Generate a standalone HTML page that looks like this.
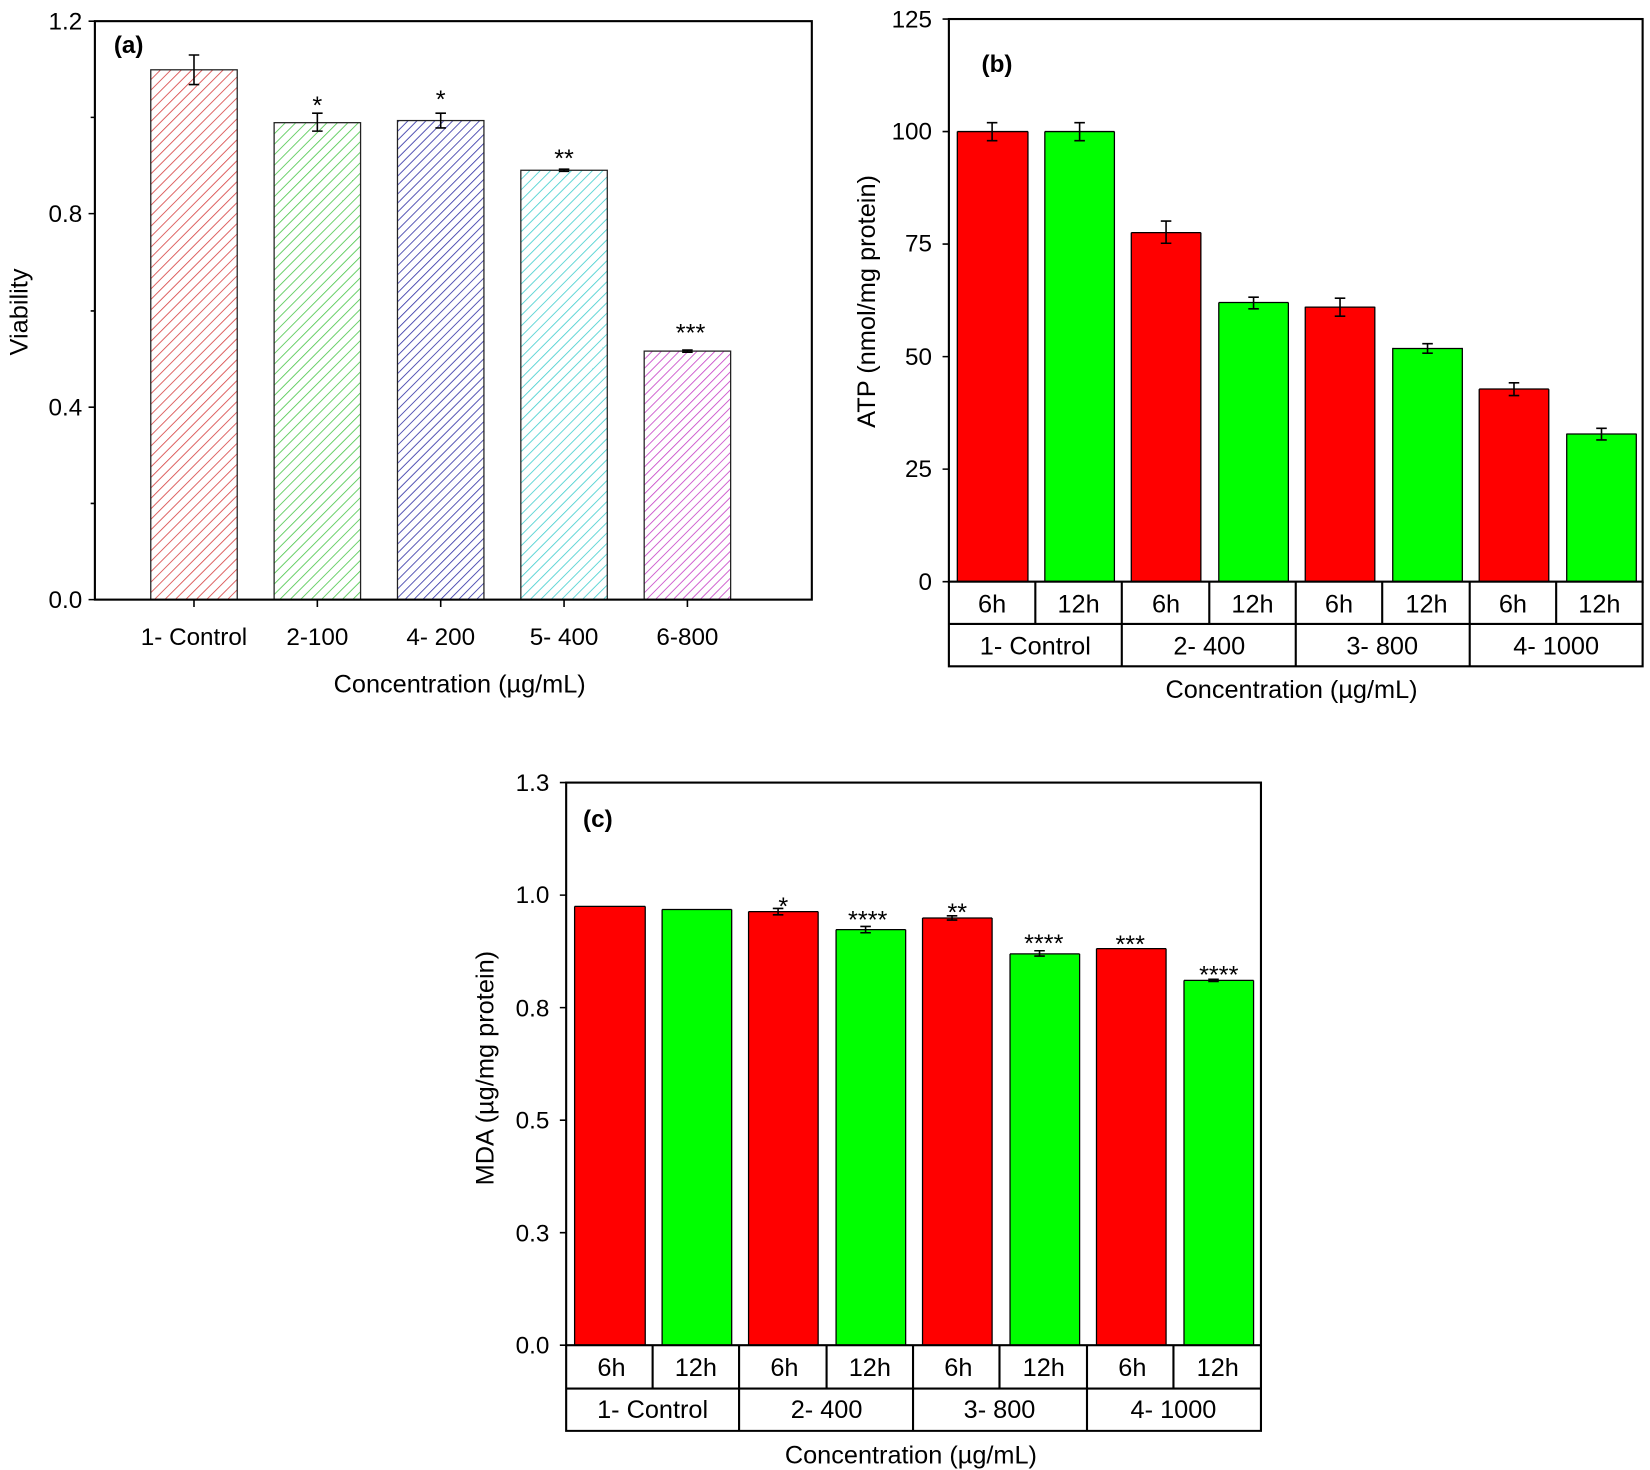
<!DOCTYPE html>
<html><head><meta charset="utf-8"><style>
html,body{margin:0;padding:0;background:#fff;}
svg{display:block;}
text{font-family:"Liberation Sans",Arial,sans-serif;fill:#000;}
</style></head><body>
<svg width="1650" height="1470" viewBox="0 0 1565 1390" preserveAspectRatio="none" xmlns="http://www.w3.org/2000/svg">
<defs>
<pattern id="hr" width="7" height="7" patternUnits="userSpaceOnUse" patternTransform="rotate(45)"><rect width="7" height="7" fill="#fff"/><line x1="0" y1="0" x2="0" y2="7" stroke="#d84848" stroke-width="1.6"/></pattern>
<pattern id="hg" width="7" height="7" patternUnits="userSpaceOnUse" patternTransform="rotate(45)"><rect width="7" height="7" fill="#fff"/><line x1="0" y1="0" x2="0" y2="7" stroke="#50c850" stroke-width="1.6"/></pattern>
<pattern id="hb" width="6" height="6" patternUnits="userSpaceOnUse" patternTransform="rotate(45)"><rect width="6" height="6" fill="#fff"/><line x1="0" y1="0" x2="0" y2="6" stroke="#3838a8" stroke-width="1.6"/></pattern>
<pattern id="hc" width="7" height="7" patternUnits="userSpaceOnUse" patternTransform="rotate(45)"><rect width="7" height="7" fill="#fff"/><line x1="0" y1="0" x2="0" y2="7" stroke="#48d0d0" stroke-width="1.6"/></pattern>
<pattern id="hm" width="6" height="6" patternUnits="userSpaceOnUse" patternTransform="rotate(45)"><rect width="6" height="6" fill="#fff"/><line x1="0" y1="0" x2="0" y2="6" stroke="#c848c8" stroke-width="1.6"/></pattern>
</defs>

<!-- Panel A -->
<g stroke="#222" stroke-width="1.2">
<rect x="143" y="66" width="82" height="501" fill="url(#hr)"/>
<rect x="260" y="116" width="82" height="451" fill="url(#hg)"/>
<rect x="377" y="114" width="82" height="453" fill="url(#hb)"/>
<rect x="494" y="161" width="82" height="406" fill="url(#hc)"/>
<rect x="611" y="332" width="82" height="235" fill="url(#hm)"/>
</g>
<g stroke="#000" stroke-width="1.5" fill="none">
<path d="M184 52V80M179 52h10M179 80h10"/>
<path d="M301 107V124M296 107h10M296 124h10"/>
<path d="M418 107V121M413 107h10M413 121h10"/>
<path d="M535 160V162M530 160h10M530 162h10"/>
<path d="M652 331V333M647 331h10M647 333h10"/>
<rect x="90" y="20" width="680" height="547" stroke-width="2"/>
<path d="M84 20h6M84 202h6M84 385h6M84 567h6M86 111h4M86 294h4M86 476h4"/>
<path d="M184 567v7M301 567v7M418 567v7M535 567v7M652 567v7"/>
</g>
<g font-size="23" text-anchor="end">
<text x="78" y="28">1.2</text><text x="78" y="210">0.8</text><text x="78" y="393">0.4</text><text x="78" y="575">0.0</text>
</g>
<g font-size="23" text-anchor="middle">
<text x="184" y="610">1- Control</text><text x="301" y="610">2-100</text><text x="418" y="610">4- 200</text><text x="535" y="610">5- 400</text><text x="652" y="610">6-800</text>
<text x="436" y="655" font-size="24">Concentration (µg/mL)</text>
<text x="301" y="108" font-size="24">*</text><text x="418" y="102" font-size="24">*</text><text x="535" y="158" font-size="24">**</text><text x="655" y="323" font-size="24">***</text>
</g>
<text x="108" y="50" font-size="23" font-weight="bold">(a)</text>
<text transform="translate(26,295) rotate(-90)" font-size="24" text-anchor="middle">Viability</text>

<!-- Panel B -->
<g>
<rect x="908" y="124.4" width="67" height="425.6" fill="#ff0000"/>
<rect x="991" y="124.4" width="66" height="425.6" fill="#00ff00"/>
<rect x="1073" y="220" width="66" height="330" fill="#ff0000"/>
<rect x="1156" y="286" width="66" height="264" fill="#00ff00"/>
<rect x="1238" y="290.4" width="66" height="259.6" fill="#ff0000"/>
<rect x="1321" y="329.5" width="66" height="220.5" fill="#00ff00"/>
<rect x="1403" y="367.8" width="66" height="182.2" fill="#ff0000"/>
<rect x="1486" y="410.4" width="66" height="139.6" fill="#00ff00"/>
</g>
<g stroke="#000" stroke-width="1.2" fill="none">
<path d="M908 124.4h67M991 124.4h66M1073 220h66M1156 286h66M1238 290.4h66M1321 329.5h66M1403 367.8h66M1486 410.4h66"/>
<path d="M908 124.4V550M975 124.4V550M991 124.4V550M1057 124.4V550M1073 220V550M1139 220V550M1156 286V550M1222 286V550M1238 290V550M1304 290V550M1321 329V550M1387 329V550M1403 368V550M1469 368V550M1486 410V550M1552 410V550"/>
</g>
<g stroke="#000" stroke-width="1.5" fill="none">
<path d="M941 116V133M936 116h10M936 133h10"/>
<path d="M1024 116V133M1019 116h10M1019 133h10"/>
<path d="M1106 209V230M1101 209h10M1101 230h10"/>
<path d="M1189 281V292M1184 281h10M1184 292h10"/>
<path d="M1271 282V299M1266 282h10M1266 299h10"/>
<path d="M1354 325V334M1349 325h10M1349 334h10"/>
<path d="M1436 362V374M1431 362h10M1431 374h10"/>
<path d="M1519 405V416M1514 405h10M1514 416h10"/>
<rect x="900" y="18" width="658" height="532" stroke-width="2"/>
<path d="M894 18h6M894 124.4h6M894 230.8h6M894 337.2h6M894 443.6h6M894 550h6"/>
<path d="M900 550V630H1558V550M900 590H1558M982 550v40M1064 550v80M1147 550v40M1229 550v80M1311 550v40M1394 550v80M1476 550v40" stroke-width="2"/>
</g>
<g font-size="23" text-anchor="end">
<text x="884" y="26">125</text><text x="884" y="132">100</text><text x="884" y="238">75</text><text x="884" y="345">50</text><text x="884" y="451">25</text><text x="884" y="558">0</text>
</g>
<g font-size="24" text-anchor="middle">
<text x="941" y="579">6h</text><text x="1023" y="579">12h</text><text x="1106" y="579">6h</text><text x="1188" y="579">12h</text><text x="1270" y="579">6h</text><text x="1353" y="579">12h</text><text x="1435" y="579">6h</text><text x="1517" y="579">12h</text>
<text x="982" y="619">1- Control</text><text x="1147" y="619">2- 400</text><text x="1311" y="619">3- 800</text><text x="1476" y="619">4- 1000</text>
<text x="1225" y="660">Concentration (µg/mL)</text>
</g>
<text x="931" y="68" font-size="23" font-weight="bold">(b)</text>
<text transform="translate(830,285) rotate(-90)" font-size="24" text-anchor="middle">ATP (nmol/mg protein)</text>

<!-- Panel C -->
<g>
<rect x="545" y="857" width="67" height="415" fill="#ff0000"/>
<rect x="628" y="860" width="66" height="412" fill="#00ff00"/>
<rect x="710" y="862" width="66" height="410" fill="#ff0000"/>
<rect x="793" y="879" width="66" height="393" fill="#00ff00"/>
<rect x="875" y="868" width="66" height="404" fill="#ff0000"/>
<rect x="958" y="902" width="66" height="370" fill="#00ff00"/>
<rect x="1040" y="897" width="66" height="375" fill="#ff0000"/>
<rect x="1123" y="927" width="66" height="345" fill="#00ff00"/>
</g>
<g stroke="#000" stroke-width="1.2" fill="none">
<path d="M545 857h67M628 860h66M710 862h66M793 879h66M875 868h66M958 902h66M1040 897h66M1123 927h66"/>
<path d="M545 857V1272M612 857V1272M628 860V1272M694 860V1272M710 862V1272M776 862V1272M793 879V1272M859 879V1272M875 868V1272M941 868V1272M958 902V1272M1024 902V1272M1040 897V1272M1106 897V1272M1123 927V1272M1189 927V1272"/>
</g>
<g stroke="#000" stroke-width="1.5" fill="none">
<path d="M738 859V865M733 859h10M733 865h10"/>
<path d="M821 876V882M816 876h10M816 882h10"/>
<path d="M903 866V870M898 866h10M898 870h10"/>
<path d="M986 899V904M981 899h10M981 904h10"/>
<path d="M1151 926V928M1146 926h10M1146 928h10"/>
<rect x="537" y="740" width="659" height="532" stroke-width="2"/>
<path d="M531 740h6M531 846.4h6M531 952.8h6M531 1059.2h6M531 1165.6h6M531 1272h6"/>
<path d="M537 1272V1353H1196V1272M537 1313H1196M619 1272v41M701 1272v81M784 1272v41M866 1272v81M948 1272v41M1031 1272v81M1113 1272v41" stroke-width="2"/>
</g>
<g font-size="23" text-anchor="end">
<text x="521" y="748">1.3</text><text x="521" y="854">1.0</text><text x="521" y="961">0.8</text><text x="521" y="1067">0.5</text><text x="521" y="1174">0.3</text><text x="521" y="1280">0.0</text>
</g>
<g font-size="24" text-anchor="middle">
<text x="580" y="1301">6h</text><text x="660" y="1301">12h</text><text x="744" y="1301">6h</text><text x="825" y="1301">12h</text><text x="909" y="1301">6h</text><text x="990" y="1301">12h</text><text x="1074" y="1301">6h</text><text x="1155" y="1301">12h</text>
<text x="619" y="1341">1- Control</text><text x="784" y="1341">2- 400</text><text x="948" y="1341">3- 800</text><text x="1113" y="1341">4- 1000</text>
<text x="864" y="1384">Concentration (µg/mL)</text>
</g>
<g font-size="24" text-anchor="middle">
<text x="743" y="865">*</text><text x="823" y="878">****</text><text x="908" y="871">**</text><text x="990" y="900">****</text><text x="1072" y="901">***</text><text x="1156" y="930">****</text>
</g>
<text x="553" y="782" font-size="23" font-weight="bold">(c)</text>
<text transform="translate(468,1010) rotate(-90)" font-size="24" text-anchor="middle">MDA (µg/mg protein)</text>
</svg>
</body></html>
